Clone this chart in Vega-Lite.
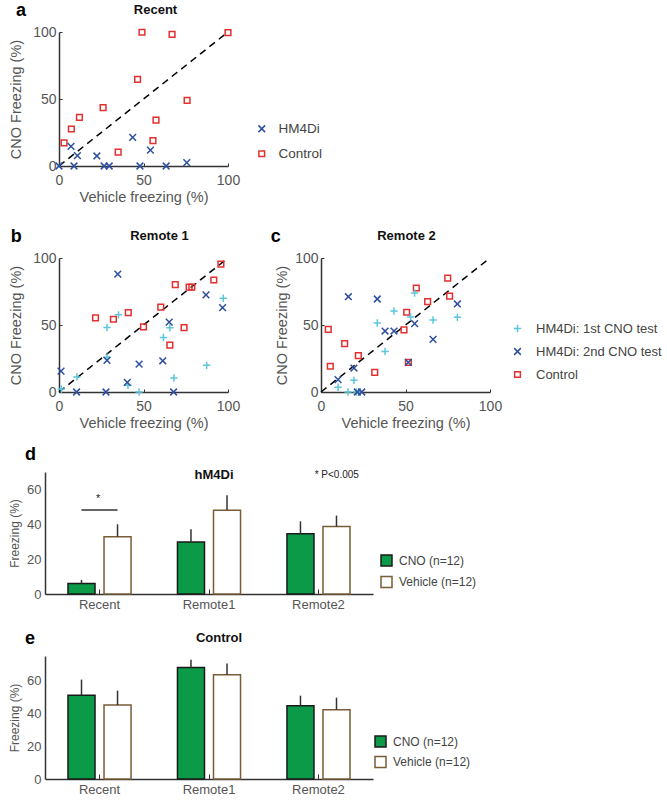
{
"$schema":"https://vega.github.io/schema/vega-lite/v6.json",
"background":"white",
"padding":{"left":7,"top":2,"right":0,"bottom":0},
"config":{
 "view":{"stroke":null},
 "font":"Liberation Sans",
 "axis":{"grid":false,"domainColor":"#333","domainWidth":1.5,"tickColor":"#333","labelColor":"#555","titleColor":"#555","titleFontWeight":"normal","labelFontSize":14,"titleFontSize":14.5,"labelFont":"Liberation Sans","titleFont":"Liberation Sans"},
 "title":{"fontSize":13,"fontWeight":"bold","color":"#111","font":"Liberation Sans"},
 "legend":{"title":null,"orient":"none","labelColor":"#444","labelFont":"Liberation Sans","symbolStrokeWidth":1.5}
},
"datasets":{
 "recent":[
  {"vx":3,"cno":17.2,"grp":"Control"},{"vx":7.3,"cno":27.6,"grp":"Control"},{"vx":12.1,"cno":36.3,"grp":"Control"},{"vx":26.1,"cno":43.5,"grp":"Control"},{"vx":35,"cno":10.4,"grp":"Control"},{"vx":46.5,"cno":64.7,"grp":"Control"},{"vx":49.1,"cno":99.8,"grp":"Control"},{"vx":55.6,"cno":18.9,"grp":"Control"},{"vx":57.4,"cno":34.3,"grp":"Control"},{"vx":66.9,"cno":98.3,"grp":"Control"},{"vx":75.8,"cno":49,"grp":"Control"},{"vx":100,"cno":99.5,"grp":"Control"},
  {"vx":0,"cno":0,"grp":"HM4Di"},{"vx":7.1,"cno":14.7,"grp":"HM4Di"},{"vx":8.9,"cno":0,"grp":"HM4Di"},{"vx":10.9,"cno":7.7,"grp":"HM4Di"},{"vx":22.4,"cno":7.5,"grp":"HM4Di"},{"vx":26.7,"cno":0,"grp":"HM4Di"},{"vx":29.7,"cno":0,"grp":"HM4Di"},{"vx":43.6,"cno":21.4,"grp":"HM4Di"},{"vx":47.9,"cno":0,"grp":"HM4Di"},{"vx":54.1,"cno":11.9,"grp":"HM4Di"},{"vx":63.4,"cno":0,"grp":"HM4Di"},{"vx":75.6,"cno":2.5,"grp":"HM4Di"}
 ],
 "remote1":[
  {"vx":21.6,"cno":55.3,"grp":"Control"},{"vx":32.2,"cno":54.3,"grp":"Control"},{"vx":41,"cno":59.3,"grp":"Control"},{"vx":50,"cno":48.6,"grp":"Control"},{"vx":60.2,"cno":63.3,"grp":"Control"},{"vx":68.8,"cno":80.1,"grp":"Control"},{"vx":65.6,"cno":35,"grp":"Control"},{"vx":74,"cno":48.1,"grp":"Control"},{"vx":77,"cno":78.2,"grp":"Control"},{"vx":78.6,"cno":78.2,"grp":"Control"},{"vx":91.6,"cno":83.6,"grp":"Control"},{"vx":95.8,"cno":95.5,"grp":"Control"},
  {"vx":1.4,"cno":2.2,"grp":"HM4Di: 1st CNO test"},{"vx":10.6,"cno":11.2,"grp":"HM4Di: 1st CNO test"},{"vx":28.4,"cno":48.1,"grp":"HM4Di: 1st CNO test"},{"vx":28.4,"cno":26,"grp":"HM4Di: 1st CNO test"},{"vx":35.2,"cno":57.6,"grp":"HM4Di: 1st CNO test"},{"vx":40.8,"cno":5,"grp":"HM4Di: 1st CNO test"},{"vx":47.4,"cno":0,"grp":"HM4Di: 1st CNO test"},{"vx":61.8,"cno":40.7,"grp":"HM4Di: 1st CNO test"},{"vx":65.6,"cno":47.9,"grp":"HM4Di: 1st CNO test"},{"vx":68,"cno":10.4,"grp":"HM4Di: 1st CNO test"},{"vx":87.4,"cno":19.9,"grp":"HM4Di: 1st CNO test"},{"vx":97.2,"cno":70,"grp":"HM4Di: 1st CNO test"},
  {"vx":1.2,"cno":15.6,"grp":"HM4Di: 2nd CNO test"},{"vx":10.4,"cno":0,"grp":"HM4Di: 2nd CNO test"},{"vx":27.8,"cno":0,"grp":"HM4Di: 2nd CNO test"},{"vx":34.8,"cno":88,"grp":"HM4Di: 2nd CNO test"},{"vx":28.4,"cno":23.6,"grp":"HM4Di: 2nd CNO test"},{"vx":40.4,"cno":7.2,"grp":"HM4Di: 2nd CNO test"},{"vx":47.4,"cno":20.8,"grp":"HM4Di: 2nd CNO test"},{"vx":61.4,"cno":23.3,"grp":"HM4Di: 2nd CNO test"},{"vx":65.2,"cno":52.1,"grp":"HM4Di: 2nd CNO test"},{"vx":67.8,"cno":0,"grp":"HM4Di: 2nd CNO test"},{"vx":87,"cno":72.5,"grp":"HM4Di: 2nd CNO test"},{"vx":96.8,"cno":63,"grp":"HM4Di: 2nd CNO test"}
 ],
 "remote2":[
  {"vx":4.3,"cno":46.8,"grp":"Control"},{"vx":5.5,"cno":19.2,"grp":"Control"},{"vx":14,"cno":36.1,"grp":"Control"},{"vx":22.1,"cno":27.1,"grp":"Control"},{"vx":31.8,"cno":14.7,"grp":"Control"},{"vx":49.1,"cno":46.3,"grp":"Control"},{"vx":50.7,"cno":59.5,"grp":"Control"},{"vx":51.7,"cno":22.1,"grp":"Control"},{"vx":56.4,"cno":77.6,"grp":"Control"},{"vx":63.1,"cno":67.4,"grp":"Control"},{"vx":75,"cno":85,"grp":"Control"},{"vx":76.1,"cno":71.6,"grp":"Control"},
  {"vx":10.1,"cno":3.5,"grp":"HM4Di: 1st CNO test"},{"vx":16,"cno":0,"grp":"HM4Di: 1st CNO test"},{"vx":19.5,"cno":8.7,"grp":"HM4Di: 1st CNO test"},{"vx":21,"cno":0,"grp":"HM4Di: 1st CNO test"},{"vx":22.5,"cno":0,"grp":"HM4Di: 1st CNO test"},{"vx":33.3,"cno":51.5,"grp":"HM4Di: 1st CNO test"},{"vx":37.9,"cno":30.3,"grp":"HM4Di: 1st CNO test"},{"vx":43.2,"cno":60.4,"grp":"HM4Di: 1st CNO test"},{"vx":53,"cno":56,"grp":"HM4Di: 1st CNO test"},{"vx":55.4,"cno":73.9,"grp":"HM4Di: 1st CNO test"},{"vx":66.3,"cno":53.7,"grp":"HM4Di: 1st CNO test"},{"vx":80.7,"cno":55.7,"grp":"HM4Di: 1st CNO test"},
  {"vx":10.1,"cno":9.2,"grp":"HM4Di: 2nd CNO test"},{"vx":16.2,"cno":71.1,"grp":"HM4Di: 2nd CNO test"},{"vx":19.5,"cno":17.9,"grp":"HM4Di: 2nd CNO test"},{"vx":21.5,"cno":0,"grp":"HM4Di: 2nd CNO test"},{"vx":24.1,"cno":0,"grp":"HM4Di: 2nd CNO test"},{"vx":33.3,"cno":69.4,"grp":"HM4Di: 2nd CNO test"},{"vx":37.9,"cno":45.5,"grp":"HM4Di: 2nd CNO test"},{"vx":43.2,"cno":45.5,"grp":"HM4Di: 2nd CNO test"},{"vx":51.7,"cno":22.1,"grp":"HM4Di: 2nd CNO test"},{"vx":55.4,"cno":51,"grp":"HM4Di: 2nd CNO test"},{"vx":66.3,"cno":39.3,"grp":"HM4Di: 2nd CNO test"},{"vx":80.7,"cno":65.7,"grp":"HM4Di: 2nd CNO test"}
 ],
 "bars":[
  {"panel":"d","cat":"Recent","cond":"CNO (n=12)","value":6.0,"upper":8.1},
  {"panel":"d","cat":"Recent","cond":"Vehicle (n=12)","value":32.9,"upper":40},
  {"panel":"d","cat":"Remote1","cond":"CNO (n=12)","value":29.8,"upper":37.1},
  {"panel":"d","cat":"Remote1","cond":"Vehicle (n=12)","value":48.1,"upper":56.7},
  {"panel":"d","cat":"Remote2","cond":"CNO (n=12)","value":34.6,"upper":41.7},
  {"panel":"d","cat":"Remote2","cond":"Vehicle (n=12)","value":38.7,"upper":45},
  {"panel":"e","cat":"Recent","cond":"CNO (n=12)","value":51,"upper":60.6},
  {"panel":"e","cat":"Recent","cond":"Vehicle (n=12)","value":45.1,"upper":53.9},
  {"panel":"e","cat":"Remote1","cond":"CNO (n=12)","value":68,"upper":72.7},
  {"panel":"e","cat":"Remote1","cond":"Vehicle (n=12)","value":63.5,"upper":70.4},
  {"panel":"e","cat":"Remote2","cond":"CNO (n=12)","value":44.7,"upper":50.8},
  {"panel":"e","cat":"Remote2","cond":"Vehicle (n=12)","value":42.2,"upper":49.6}
 ]
},
"resolve":{"scale":{"color":"independent","shape":"independent","fill":"independent","stroke":"independent"},"legend":{"color":"independent","shape":"independent","fill":"independent","stroke":"independent"}},
"spacing":16,
"vconcat":[
 {
  "spacing":24,
  "resolve":{"scale":{"color":"independent","shape":"independent"},"legend":{"color":"independent","shape":"independent"}},
  "vconcat":[
   {
    "title":{"text":"a","anchor":"start","frame":"bounds","fontSize":18,"fontWeight":"bold","color":"#000","offset":-16,"dx":9},
    "spacing":0,
    "hconcat":[
     {"width":1,"height":1,"data":{"values":[]},"mark":{"type":"point","opacity":0}},
     {
      "width":169,"height":134,
      "title":{"text":"Recent","dx":12,"offset":8},
      "encoding":{
       "x":{"field":"vx","type":"quantitative","scale":{"domain":[0,100],"nice":false},"axis":{"title":"Vehicle freezing (%)","values":[0,50,100],"labelFlush":false,"tickSize":-3,"labelPadding":10,"titlePadding":3}},
       "y":{"field":"cno","type":"quantitative","scale":{"domain":[0,100],"nice":false},"axis":{"title":"CNO Freezing (%)","values":[0,50,100],"labelFlush":false,"tickSize":-3,"labelPadding":6,"titlePadding":9}}
      },
      "layer":[
       {"data":{"values":[{"vx":0,"cno":0},{"vx":100,"cno":100}]},"mark":{"type":"line","strokeDash":[7,5],"color":"#000","strokeWidth":1.5},"encoding":{}},
       {"data":{"name":"recent"},"mark":{"type":"point","filled":false,"strokeWidth":1.5,"size":45,"opacity":1},
        "encoding":{
         "shape":{"field":"grp","type":"nominal","scale":{"domain":["HM4Di","Control"],"range":["M-1,-1L1,1M-1,1L1,-1","M-0.85,-0.85H0.85V0.85H-0.85Z"]},"legend":{"legendX":248,"legendY":90,"labelFontSize":13.5,"rowPadding":10,"labelOffset":10,"symbolSize":45}},
         "color":{"field":"grp","type":"nominal","scale":{"domain":["HM4Di","Control"],"range":["#2d4f9e","#e2302f"]},"legend":{"legendX":248,"legendY":90,"labelFontSize":13.5,"rowPadding":10,"labelOffset":10,"symbolSize":45}}
        }}
      ]
     }
    ]
   },
   {
    "spacing":0,
    "hconcat":[
     {"width":1,"height":1,"data":{"values":[]},"mark":{"type":"point","opacity":0}},
     {
      "spacing":30,
      "resolve":{"scale":{"color":"independent","shape":"independent"},"legend":{"color":"independent","shape":"independent"}},
      "hconcat":[
       {
        "title":{"text":"b","anchor":"start","frame":"bounds","fontSize":18,"fontWeight":"bold","color":"#000","offset":-16,"dx":2},
        "vconcat":[{
         "width":169,"height":134,
         "title":{"text":"Remote 1","dx":16,"offset":8},
         "encoding":{
          "x":{"field":"vx","type":"quantitative","scale":{"domain":[0,100],"nice":false},"axis":{"title":"Vehicle freezing (%)","values":[0,50,100],"labelFlush":false,"tickSize":-3,"labelPadding":10,"titlePadding":3}},
          "y":{"field":"cno","type":"quantitative","scale":{"domain":[0,100],"nice":false},"axis":{"title":"CNO Freezing (%)","values":[0,50,100],"labelFlush":false,"tickSize":-3,"labelPadding":6,"titlePadding":9}}
         },
         "layer":[
          {"data":{"values":[{"vx":0,"cno":0},{"vx":100,"cno":100}]},"mark":{"type":"line","strokeDash":[7,5],"color":"#000","strokeWidth":1.5},"encoding":{}},
          {"data":{"name":"remote1"},"mark":{"type":"point","filled":false,"strokeWidth":1.5,"size":45,"opacity":1},
           "encoding":{
            "shape":{"field":"grp","type":"nominal","scale":{"domain":["HM4Di: 1st CNO test","HM4Di: 2nd CNO test","Control"],"range":["M-1.1,0H1.1M0,-1.1V1.1","M-1,-1L1,1M-1,1L1,-1","M-0.85,-0.85H0.85V0.85H-0.85Z"]},"legend":null},
            "color":{"field":"grp","type":"nominal","scale":{"domain":["HM4Di: 1st CNO test","HM4Di: 2nd CNO test","Control"],"range":["#5ec6da","#2d4f9e","#e2302f"]},"legend":null}
           }}
         ]
        }]
       },
       {
        "title":{"text":"c","anchor":"start","frame":"bounds","fontSize":18,"fontWeight":"bold","color":"#000","offset":-16,"dx":-4},
        "vconcat":[{
         "width":169,"height":134,
         "title":{"text":"Remote 2","dx":1,"offset":8},
         "encoding":{
          "x":{"field":"vx","type":"quantitative","scale":{"domain":[0,100],"nice":false},"axis":{"title":"Vehicle freezing (%)","values":[0,50,100],"labelFlush":false,"tickSize":-3,"labelPadding":10,"titlePadding":3}},
          "y":{"field":"cno","type":"quantitative","scale":{"domain":[0,100],"nice":false},"axis":{"title":"CNO Freezing (%)","values":[0,50,100],"labelFlush":false,"tickSize":-3,"labelPadding":6,"titlePadding":5}}
         },
         "layer":[
          {"data":{"values":[{"vx":0,"cno":0},{"vx":100,"cno":100}]},"mark":{"type":"line","strokeDash":[7,5],"color":"#000","strokeWidth":1.5},"encoding":{}},
          {"data":{"name":"remote2"},"mark":{"type":"point","filled":false,"strokeWidth":1.5,"size":45,"opacity":1},
           "encoding":{
            "shape":{"field":"grp","type":"nominal","scale":{"domain":["HM4Di: 1st CNO test","HM4Di: 2nd CNO test","Control"],"range":["M-1.1,0H1.1M0,-1.1V1.1","M-1,-1L1,1M-1,1L1,-1","M-0.85,-0.85H0.85V0.85H-0.85Z"]},"legend":{"legendX":190,"legendY":64,"labelFontSize":13,"rowPadding":9,"labelOffset":12,"symbolSize":45}},
            "color":{"field":"grp","type":"nominal","scale":{"domain":["HM4Di: 1st CNO test","HM4Di: 2nd CNO test","Control"],"range":["#5ec6da","#2d4f9e","#e2302f"]},"legend":{"legendX":190,"legendY":64,"labelFontSize":13,"rowPadding":9,"labelOffset":12,"symbolSize":45}}
           }}
         ]
        }]
       }
      ]
     }
    ]
   }
  ]
 },
 {
  "spacing":19,
  "resolve":{"scale":{"fill":"independent","stroke":"independent"},"legend":{"fill":"independent","stroke":"independent"}},
  "vconcat":[
   {
    "title":{"text":"d","anchor":"start","frame":"bounds","fontSize":18,"fontWeight":"bold","color":"#000","offset":5,"dx":18},
    "spacing":0,
    "hconcat":[
     {"width":1,"height":1,"data":{"values":[]},"mark":{"type":"point","opacity":0}},
     {
      "width":328,"height":122,
      "title":{"text":"hM4Di","dx":5,"offset":-12},
      "encoding":{
       "x":{"field":"cat","type":"nominal","scale":{"domain":["Recent","Remote1","Remote2"],"paddingInner":0.424,"paddingOuter":0.21},"axis":{"title":null,"labelAngle":0,"tickSize":-5,"labelPadding":9,"labelFontSize":13}}
      },
      "layer":[
       {"data":{"name":"bars"},"transform":[{"filter":"datum.panel==='d'"}],"mark":{"type":"bar","strokeWidth":1.5},
        "encoding":{
         "xOffset":{"field":"cond","type":"nominal","scale":{"paddingInner":0.25,"paddingOuter":0}},
         "y":{"field":"value","type":"quantitative","scale":{"domain":[0,70],"nice":false},"axis":{"title":"Freezing (%)","values":[0,20,40,60],"ticks":false,"labelPadding":4,"titlePadding":5.5,"labelFontSize":13,"titleFontSize":12}},
         "fill":{"field":"cond","type":"nominal","scale":{"domain":["CNO (n=12)","Vehicle (n=12)"],"range":["#0b9a48","#ffffff"]},"legend":{"legendX":373,"legendY":82,"labelFontSize":12,"rowPadding":4.5,"labelOffset":6,"symbolType":"square","symbolSize":121}},
         "stroke":{"field":"cond","type":"nominal","scale":{"domain":["CNO (n=12)","Vehicle (n=12)"],"range":["#1a1a1a","#7a5c36"]},"legend":{"legendX":373,"legendY":82,"labelFontSize":12,"rowPadding":4.5,"labelOffset":6,"symbolType":"square","symbolSize":121}}
        }},
       {"data":{"name":"bars"},"transform":[{"filter":"datum.panel==='d'"}],"mark":{"type":"rule","strokeWidth":1.5,"color":"#333"},
        "encoding":{
         "xOffset":{"field":"cond","type":"nominal"},
         "y":{"field":"value","type":"quantitative"},
         "y2":{"field":"upper"}
        }},
       {"data":{"values":[{"cat":"Recent","y":48.2}]},"mark":{"type":"rule","strokeWidth":1.5,"color":"#333"},
        "encoding":{"x":{"field":"cat","type":"nominal","bandPosition":0.214},"x2":{"field":"cat","bandPosition":0.786},"y":{"field":"y","type":"quantitative"}}},
       {"data":{"values":[{"cat":"Recent","y":54.5,"t":"*"}]},"mark":{"type":"text","fontSize":11,"color":"#222"},
        "encoding":{"x":{"field":"cat","type":"nominal","bandPosition":0.48},"y":{"field":"y","type":"quantitative"},"text":{"field":"t"}}},
       {"data":{"values":[{"cat":"Remote2","y":68,"t":"* P<0.005"}]},"mark":{"type":"text","fontSize":10,"color":"#222"},
        "encoding":{"x":{"field":"cat","type":"nominal","bandPosition":0.79},"y":{"field":"y","type":"quantitative"},"text":{"field":"t"}}}
      ]
     }
    ]
   },
   {
    "title":{"text":"e","anchor":"start","frame":"bounds","fontSize":18,"fontWeight":"bold","color":"#000","offset":-16,"dx":18},
    "spacing":0,
    "hconcat":[
     {"width":1,"height":1,"data":{"values":[]},"mark":{"type":"point","opacity":0}},
     {
      "width":328,"height":123,
      "title":{"text":"Control","dx":10,"offset":11},
      "encoding":{
       "x":{"field":"cat","type":"nominal","scale":{"domain":["Recent","Remote1","Remote2"],"paddingInner":0.424,"paddingOuter":0.21},"axis":{"title":null,"labelAngle":0,"tickSize":-5,"labelPadding":9,"labelFontSize":13}}
      },
      "layer":[
       {"data":{"name":"bars"},"transform":[{"filter":"datum.panel==='e'"}],"mark":{"type":"bar","strokeWidth":1.5},
        "encoding":{
         "xOffset":{"field":"cond","type":"nominal","scale":{"paddingInner":0.25,"paddingOuter":0}},
         "y":{"field":"value","type":"quantitative","scale":{"domain":[0,75],"nice":false},"axis":{"title":"Freezing (%)","values":[0,20,40,60],"ticks":false,"labelPadding":4,"titlePadding":5.5,"labelFontSize":13,"titleFontSize":12}},
         "fill":{"field":"cond","type":"nominal","scale":{"domain":["CNO (n=12)","Vehicle (n=12)"],"range":["#0b9a48","#ffffff"]},"legend":{"legendX":367,"legendY":79,"labelFontSize":12,"rowPadding":3.5,"labelOffset":6,"symbolType":"square","symbolSize":121}},
         "stroke":{"field":"cond","type":"nominal","scale":{"domain":["CNO (n=12)","Vehicle (n=12)"],"range":["#1a1a1a","#7a5c36"]},"legend":{"legendX":367,"legendY":79,"labelFontSize":12,"rowPadding":3.5,"labelOffset":6,"symbolType":"square","symbolSize":121}}
        }},
       {"data":{"name":"bars"},"transform":[{"filter":"datum.panel==='e'"}],"mark":{"type":"rule","strokeWidth":1.5,"color":"#333"},
        "encoding":{
         "xOffset":{"field":"cond","type":"nominal"},
         "y":{"field":"value","type":"quantitative"},
         "y2":{"field":"upper"}
        }}
      ]
     }
    ]
   }
  ]
 }
]
}
